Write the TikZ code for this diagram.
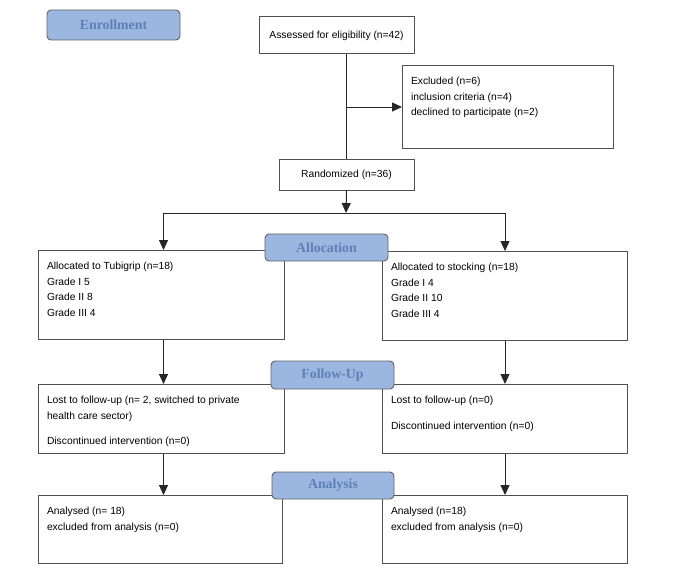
\documentclass[tikz,border=0pt]{standalone}
\usepackage{fontspec}
\setmainfont{Liberation Sans}
\newfontfamily\phasefont{Liberation Serif}
\usetikzlibrary{arrows.meta}
\definecolor{phasefill}{HTML}{9BB7E0}
\definecolor{phasetext}{HTML}{5E80B8}
\definecolor{edge}{HTML}{505050}
\tikzstyle{phase} = [draw=edge!90, fill=phasefill, line width=0.9pt, rounded corners=4pt, text=phasetext, font=\phasefont\bfseries\fontsize{13.8}{16}\selectfont]
\tikzstyle{centerbox} = [draw=edge, line width=1pt, font=\fontsize{10.3}{15.5}\selectfont]
\tikzstyle{textbox} = [draw=edge, line width=1pt, anchor=north west, inner xsep=8.5pt, inner ysep=0pt, font=\fontsize{10.3}{15.5}\selectfont]
\tikzstyle{line} = [line width=1pt, draw=black!85]
\tikzstyle{arrow} = [line, -{Triangle[length=10pt, width=9pt]}]
% width, height, lines
\newcommand{\cell}[3]{\begin{minipage}[t][#2][t]{#1}\raggedright\rule{0pt}{19pt}#3\end{minipage}}

\begin{document}
\begin{tikzpicture}[x=1pt, y=-1pt]
    \useasboundingbox (0,0) rectangle (679,578);

    % enrollment
    \node (assess) [centerbox, minimum width=155pt, minimum height=37pt] at (336.5,35.5) {Assessed for eligibility (n=42)};
    \node (excl) [textbox] at (402,65) {\cell{194pt}{83pt}{Excluded (n=6)\\inclusion criteria (n=4)\\declined to participate (n=2)}};
    \node (rand) [centerbox, minimum width=135pt, minimum height=31pt] at (346.5,174.5) {Randomized (n=36)};
    \coordinate (split) at (346,213);

    % allocation
    \node (tubi) [textbox] at (38,250) {\cell{229pt}{89pt}{Allocated to Tubigrip (n=18)\\Grade I 5\\Grade II 8\\Grade III 4}};
    \node (stock) [textbox] at (382,251) {\cell{228pt}{89pt}{Allocated to stocking (n=18)\\Grade I 4\\Grade II 10\\Grade III 4}};

    % follow-up
    \node (lostL) [textbox] at (38,384) {\cell{229pt}{69pt}{Lost to follow-up (n= 2, switched to private\\health care sector)\\[10pt]Discontinued intervention (n=0)}};
    \node (lostR) [textbox] at (382,384) {\cell{228pt}{69pt}{Lost to follow-up (n=0)\\[10pt]Discontinued intervention (n=0)}};

    % analysis
    \node (analL) [textbox] at (38,495) {\cell{227pt}{68pt}{Analysed (n= 18)\\excluded from analysis (n=0)}};
    \node (analR) [textbox] at (382,495) {\cell{228pt}{68pt}{Analysed (n=18)\\excluded from analysis (n=0)}};

    \draw[line] (assess.south -| rand.north) -- (rand.north);
    \draw[arrow] (rand.north |- excl.west) -- (excl.west);
    \draw[arrow] (rand.south) -- (split);
    \draw[arrow] (split) -| ([xshift=2pt]tubi.north);
    \draw[arrow] (split) -| (stock.north);
    \draw[arrow] ([xshift=2pt]tubi.south) -- ([xshift=2pt]tubi.south |- lostL.north);
    \draw[arrow] (stock.south) -- (stock.south |- lostR.north);
    \draw[arrow] ([xshift=2pt]lostL.south) -- ([xshift=2pt]lostL.south |- analL.north);
    \draw[arrow] (lostR.south) -- (lostR.south |- analR.north);

    % phase labels on top
    \node (enrol) [phase, minimum width=133pt, minimum height=30pt] at (113.5,25) {Enrollment};
    \node (alloc) [phase, minimum width=123pt, minimum height=27pt] at (326.5,247.5) {Allocation};
    \node (follow) [phase, minimum width=123pt, minimum height=28pt] at (332.5,375) {Follow-Up};
    \node (analysis) [phase, minimum width=122pt, minimum height=27pt] at (333,485.5) {Analysis};

\end{tikzpicture}
\end{document}
